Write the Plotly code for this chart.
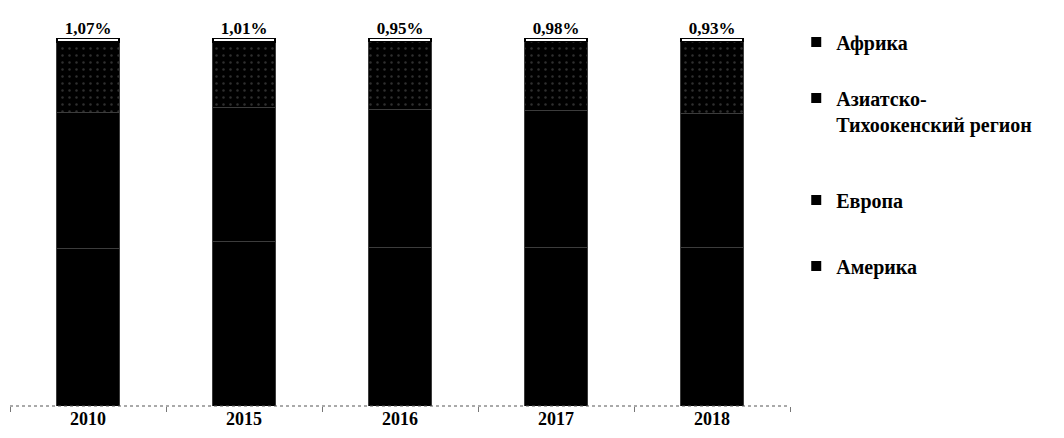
import plotly.graph_objects as go

years = ["2010", "2015", "2016", "2017", "2018"]
america = [42.9, 44.6, 43.2, 43.2, 43.2]
europe = [36.73, 36.39, 37.35, 37.02, 36.27]
asia_pacific = [19.3, 18.0, 18.5, 18.8, 19.6]
africa = [1.07, 1.01, 0.95, 0.98, 0.93]

names = ["Африка", "Азиатско-<br>Тихоокенский регион", "Европа", "Америка"]

FONT = "Liberation Serif"

fig = go.Figure()

edge = dict(color="#3c3c3c", width=1)

fig.add_trace(go.Bar(x=years, y=america, name="Америка", showlegend=False,
                     marker=dict(color="#000000", line=edge), width=0.4))
fig.add_trace(go.Bar(x=years, y=europe, name="Европа", showlegend=False,
                     marker=dict(color="#000000", line=edge), width=0.4))
fig.add_trace(go.Bar(x=years, y=asia_pacific, name="Азиатско-Тихоокенский регион", showlegend=False,
                     marker=dict(color="#000000", line=edge,
                                 pattern=dict(shape=".", fgcolor="#5e5e5e", bgcolor="#000000",
                                              size=7, solidity=0.1)),
                     width=0.4))
fig.add_trace(go.Bar(x=years, y=africa, name="Африка", showlegend=False,
                     marker=dict(color="#ffffff", line=dict(color="#000000", width=1.5)),
                     width=0.4))

# percentage labels above each stacked bar
totals = [round(a + b + c + d, 4) for a, b, c, d in zip(america, europe, asia_pacific, africa)]
fig.add_trace(go.Scatter(x=years, y=totals, mode="text", showlegend=False,
                         text=[f"{v:.2f}%".replace(".", ",") for v in africa],
                         textposition="top center", cliponaxis=False,
                         textfont=dict(family=FONT, size=17, color="#000000", weight="bold")))

# legend entries, each in its own legend box
legend_ids = ["legend", "legend2", "legend3", "legend4"]
for nm, lg in zip(names, legend_ids):
    fig.add_trace(go.Scatter(x=[None], y=[None], mode="markers", name=nm, legend=lg,
                             marker=dict(symbol="square", size=10, color="#000000")))

leg_font = dict(family=FONT, size=20, color="#000000", weight="bold")
leg_common = dict(xanchor="left", yanchor="middle", font=leg_font, valign="top",
                  itemwidth=30, bgcolor="rgba(0,0,0,0)", x=1.008)

fig.update_layout(
    width=1064, height=438,
    margin=dict(l=10, r=274, t=38, b=32),
    paper_bgcolor="white", plot_bgcolor="white",
    barmode="stack", bargap=0.6,
    showlegend=True,
    legend=dict(y=(406 - 42) / 368, **leg_common),
    legend2=dict(y=(406 - 111) / 368, **leg_common),
    legend3=dict(y=(406 - 200) / 368, **leg_common),
    legend4=dict(y=(406 - 266) / 368, **leg_common),
    xaxis=dict(type="category", showgrid=False, zeroline=False, showline=False,
               ticks="outside", tickson="boundaries", ticklen=5, tickcolor="#777777",
               tickfont=dict(family=FONT, size=18, color="#000000", weight="bold")),
    yaxis=dict(range=[0, 100.01], visible=False),
    shapes=[dict(type="line", xref="paper", yref="paper", x0=0, x1=1, y0=0, y1=0,
                 line=dict(color="#555555", width=1, dash="dot"))],
)

fig.write_html("out.html")
